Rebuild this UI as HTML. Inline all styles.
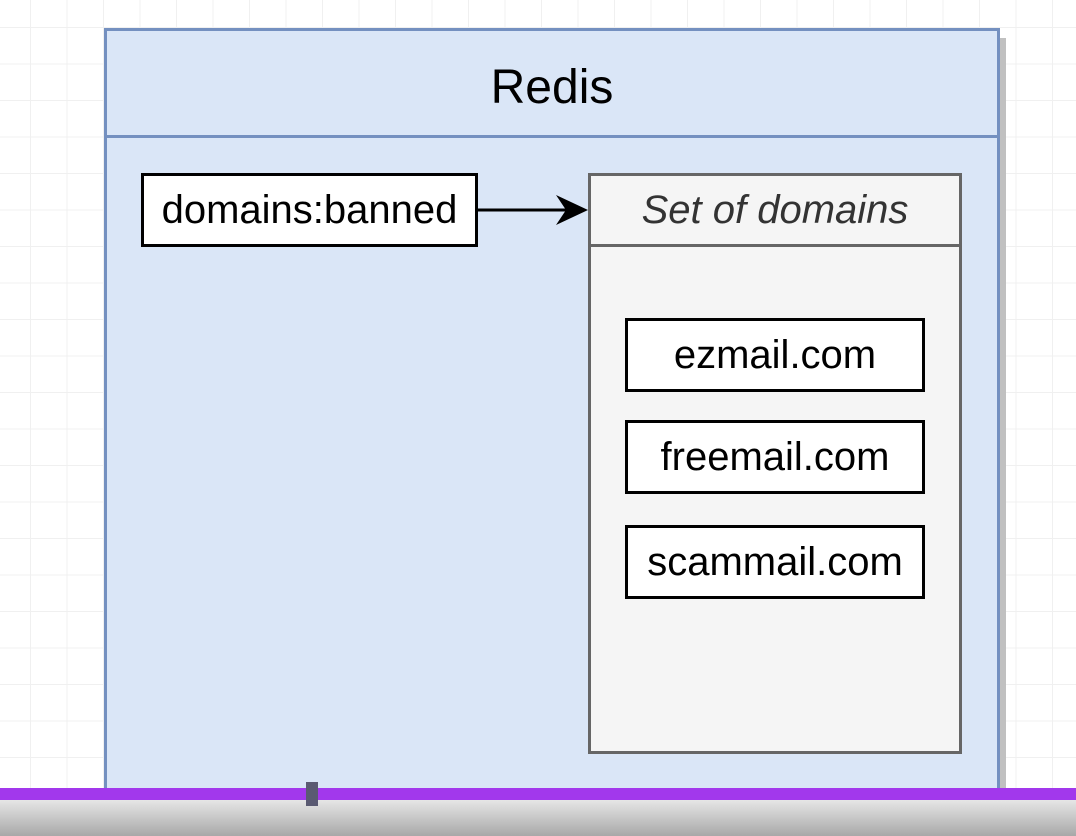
<!DOCTYPE html>
<html><head><style>
body{margin:0;width:1076px;height:836px;overflow:hidden;position:relative;font-family:"Liberation Sans",sans-serif;
background-color:#fff;
background-image:linear-gradient(#f0f0f0 1px,transparent 1px),linear-gradient(90deg,#f0f0f0 1px,transparent 1px);
background-size:36.5px 36.5px;background-position:30px 27px;}
.abs{position:absolute;box-sizing:border-box;}
.item{border:3px solid #000;background:#fff;display:flex;align-items:center;justify-content:center;font-size:40px;color:#000;white-space:nowrap;}
</style></head><body>
<div class="abs" style="left:998px;top:38px;width:8px;height:760px;background:#c0c0c0"></div>
<div class="abs" style="left:104px;top:28px;width:896px;height:770px;background:#dae6f7;border:3px solid #7490c0"></div>
<div class="abs" style="left:104px;top:135px;width:896px;height:3px;background:#7490c0"></div>
<div class="abs" style="left:104px;top:60px;width:896px;text-align:center;font-size:48px;line-height:56px;">Redis</div>
<div class="abs item" style="left:141px;top:173px;width:337px;height:74px;">domains:banned</div>
<svg class="abs" style="left:476px;top:192px" width="116" height="36"><line x1="2" y1="18" x2="92" y2="18" stroke="#000" stroke-width="3"/><polygon points="112,18 80,3 90,18 80,33" fill="#000"/></svg>
<div class="abs" style="left:588px;top:173px;width:374px;height:581px;background:#f5f5f5;border:3px solid #666"></div>
<div class="abs" style="left:588px;top:244px;width:374px;height:3px;background:#666"></div>
<div class="abs" style="left:588px;top:187px;width:374px;text-align:center;font-size:40px;line-height:46px;font-style:italic;color:#333;white-space:nowrap">Set of domains</div>
<div class="abs item" style="left:625px;top:318px;width:300px;height:74px;">ezmail.com</div>
<div class="abs item" style="left:625px;top:420px;width:300px;height:74px;">freemail.com</div>
<div class="abs item" style="left:625px;top:525px;width:300px;height:74px;">scammail.com</div>
<div class="abs" style="left:0;top:800px;width:1076px;height:36px;background:linear-gradient(#e6e6e6,#a8a8a8)"></div>
<div class="abs" style="left:0;top:788px;width:1076px;height:12px;background:#a238ec"></div>
<div class="abs" style="left:306px;top:782px;width:12px;height:24px;background:#5a5a72"></div>
</body></html>
